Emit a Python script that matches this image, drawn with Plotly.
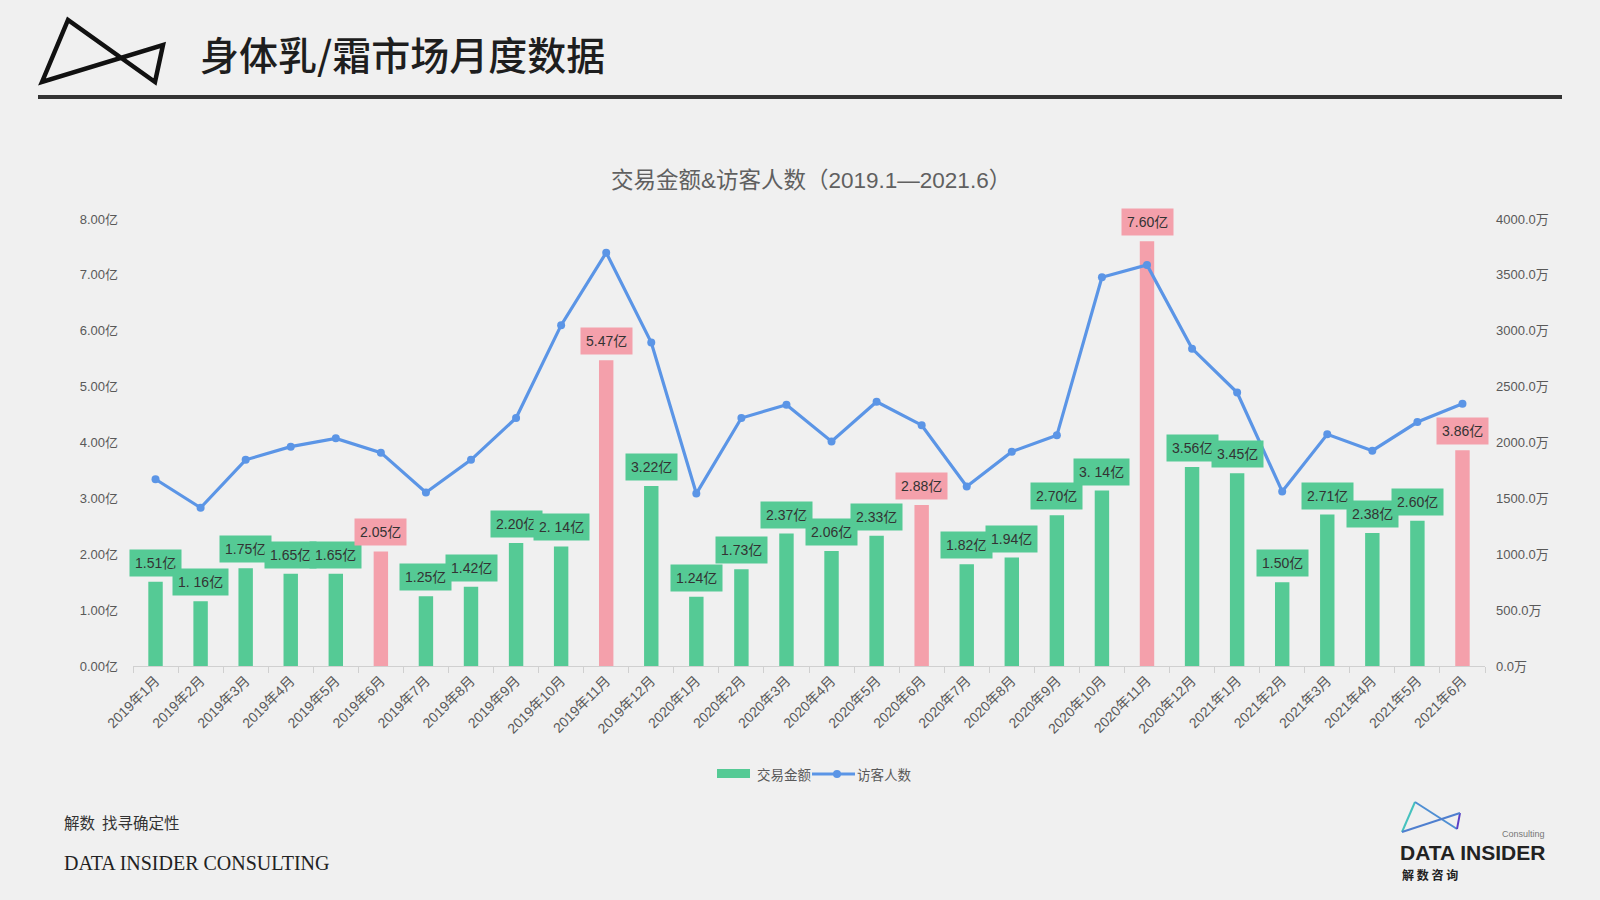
import plotly.graph_objects as go

months = ["2019年1月","2019年2月","2019年3月","2019年4月","2019年5月","2019年6月",
          "2019年7月","2019年8月","2019年9月","2019年10月","2019年11月","2019年12月",
          "2020年1月","2020年2月","2020年3月","2020年4月","2020年5月","2020年6月",
          "2020年7月","2020年8月","2020年9月","2020年10月","2020年11月","2020年12月",
          "2021年1月","2021年2月","2021年3月","2021年4月","2021年5月","2021年6月"]
sales = [1.51,1.16,1.75,1.65,1.65,2.05,1.25,1.42,2.20,2.14,5.47,3.22,
         1.24,1.73,2.37,2.06,2.33,2.88,1.82,1.94,2.70,3.14,7.60,3.56,
         3.45,1.50,2.71,2.38,2.60,3.86]
sales_labels = ["1.51亿","1. 16亿","1.75亿","1.65亿","1.65亿","2.05亿","1.25亿","1.42亿","2.20亿","2. 14亿",
                "5.47亿","3.22亿","1.24亿","1.73亿","2.37亿","2.06亿","2.33亿","2.88亿","1.82亿","1.94亿",
                "2.70亿","3. 14亿","7.60亿","3.56亿","3.45亿","1.50亿","2.71亿","2.38亿","2.60亿","3.86亿"]
promo = [0,0,0,0,0,1,0,0,0,0,1,0,0,0,0,0,0,1,0,0,0,0,1,0,0,0,0,0,0,1]
visitors = [1671,1416,1845,1963,2037,1909,1553,1845,2219,3050,3699,2895,
            1543,2219,2338,2009,2365,2155,1607,1918,2064,3479,3589,2840,
            2447,1562,2073,1927,2183,2347]
left_vals = [0,1,2,3,4,5,6,7,8]
left_text = ["0.00亿","1.00亿","2.00亿","3.00亿","4.00亿","5.00亿","6.00亿","7.00亿","8.00亿"]
right_vals = [0,500,1000,1500,2000,2500,3000,3500,4000]
right_text = ["0.0万","500.0万","1000.0万","1500.0万","2000.0万","2500.0万","3000.0万","3500.0万","4000.0万"]
legend_names = ["交易金额", "访客人数"]

GREEN = "#55CA95"
PINK = "#F4A0AB"
BLUE = "#5B95E6"
BG = "#F0F0F0"
W, H = 1600, 900
L, R, T, B = 133, 115, 219, 234
PW, PH = W - L - R, H - T - B

def px(x):
    return (x - L) / PW

def py(y):
    return (H - B - y) / PH

colors = [PINK if p else GREEN for p in promo]

fig = go.Figure()
fig.add_trace(go.Bar(x=months, y=sales, name=legend_names[0], marker=dict(color=colors, line=dict(width=0)),
                     yaxis="y"))
fig.add_trace(go.Scatter(x=months, y=visitors, name=legend_names[1], mode="lines+markers",
                         line=dict(color=BLUE, width=3.2), marker=dict(color=BLUE, size=8),
                         yaxis="y2"))

for m, v, t, c in zip(months, sales, sales_labels, colors):
    fig.add_annotation(x=m, y=v, xref="x", yref="y", text=t, showarrow=False,
                       yanchor="bottom", yshift=5, bgcolor=c, borderpad=5,
                       font=dict(family="Liberation Sans, Noto Sans CJK SC", size=14, color="#333333"))

def txt(x, y, s, size, color, family, anchor="left", weight="normal"):
    fig.add_annotation(x=px(x), y=py(y), xref="paper", yref="paper", showarrow=False,
                       text=s, xanchor=anchor, yanchor="middle",
                       font=dict(family=family, size=size, color=color, weight=weight))

# chart title
txt(811, 180, "交易金额&访客人数（2019.1—2021.6）", 22.5, "#606060", "Liberation Sans, Noto Sans CJK SC", "center")
# header title
txt(198, 53, "身体乳/霜市场月度数据", 39, "#1E1E1E", "Noto Sans CJK SC", weight=500)
# footer
txt(62, 822, "解数  找寻确定性", 15.5, "#333333", "Noto Sans CJK SC")
txt(62, 863, "DATA INSIDER CONSULTING", 20, "#222222", "Liberation Serif")
# bottom-right logo text
txt(1547, 852, "<b>DATA INSIDER</b>", 21, "#222222", "Liberation Sans", "right")
txt(1400, 874, "<b>解 数 咨 询</b>", 12, "#222222", "Noto Sans CJK SC")
txt(1547, 834, "Consulting", 9, "#777777", "Liberation Sans", "right")
# manual legend
txt(755, 774, legend_names[0], 13.5, "#595959", "Noto Sans CJK SC")
txt(855, 774, legend_names[1], 13.5, "#595959", "Noto Sans CJK SC")

shapes = []
# header logo
pts = [(42, 82), (68, 20), (155, 82), (163, 45)]
path = "M {} {} L {} {} L {} {} L {} {} Z".format(*[v for p in pts for v in (px(p[0]), py(p[1]))])
shapes.append(dict(type="path", path=path, xref="paper", yref="paper",
                   line=dict(color="#111111", width=4.5), fillcolor="rgba(0,0,0,0)"))
# separator
shapes.append(dict(type="line", xref="paper", yref="paper", x0=px(38), x1=px(1562), y0=py(97), y1=py(97),
                   line=dict(color="#333333", width=4)))
# bottom-right logo bowtie
lp = [(1402, 832), (1415, 802), (1457, 829), (1460, 813)]
lc = ["#45C2BE", "#4F8FD3", "#5A3FC6", "#4F7FCF"]
for i in range(4):
    a, b = lp[i], lp[(i + 1) % 4]
    shapes.append(dict(type="line", xref="paper", yref="paper", x0=px(a[0]), y0=py(a[1]),
                       x1=px(b[0]), y1=py(b[1]), line=dict(color=lc[i], width=2)))
# legend symbols
shapes.append(dict(type="rect", xref="paper", yref="paper", x0=px(717), x1=px(750), y0=py(778), y1=py(769),
                   fillcolor=GREEN, line=dict(width=0)))
shapes.append(dict(type="line", xref="paper", yref="paper", x0=px(812), x1=px(855), y0=py(774), y1=py(774),
                   line=dict(color=BLUE, width=3.2)))
shapes.append(dict(type="circle", xref="paper", yref="paper", x0=px(833), x1=px(841), y0=py(778), y1=py(770),
                   fillcolor=BLUE, line=dict(width=0)))

tickfont = dict(family="Liberation Sans, Noto Sans CJK SC", size=13, color="#595959")
xtickfont = dict(family="Liberation Sans, Noto Sans CJK SC", size=14, color="#595959")
fig.update_layout(
    width=W, height=H, margin=dict(l=L, r=R, t=T, b=B, autoexpand=False),
    paper_bgcolor=BG, plot_bgcolor=BG, bargap=0.68, shapes=shapes,
    showlegend=False,
    xaxis=dict(type="category", range=[-0.5, len(months) - 0.5], showgrid=False, showline=True,
               linecolor="#D0D0D0", linewidth=1,
               ticks="outside", tickson="boundaries", ticklen=6, tickcolor="#D0D0D0",
               tickangle=-45, tickfont=xtickfont, zeroline=False),
    yaxis=dict(range=[0, 8], tickvals=left_vals, ticktext=left_text, showgrid=False,
               zeroline=False, tickfont=tickfont, ticks="", showline=False, ticklabelstandoff=14),
    yaxis2=dict(range=[0, 4000], tickvals=right_vals, ticktext=right_text, overlaying="y",
                side="right", showgrid=False, zeroline=False, tickfont=tickfont, ticks="",
                showline=False, ticklabelstandoff=10),
    font=dict(family="Liberation Sans, Noto Sans CJK SC"),
)

fig.write_html("out.html", config={"displayModeBar": False},
               post_script="document.body.style.margin='0';")
